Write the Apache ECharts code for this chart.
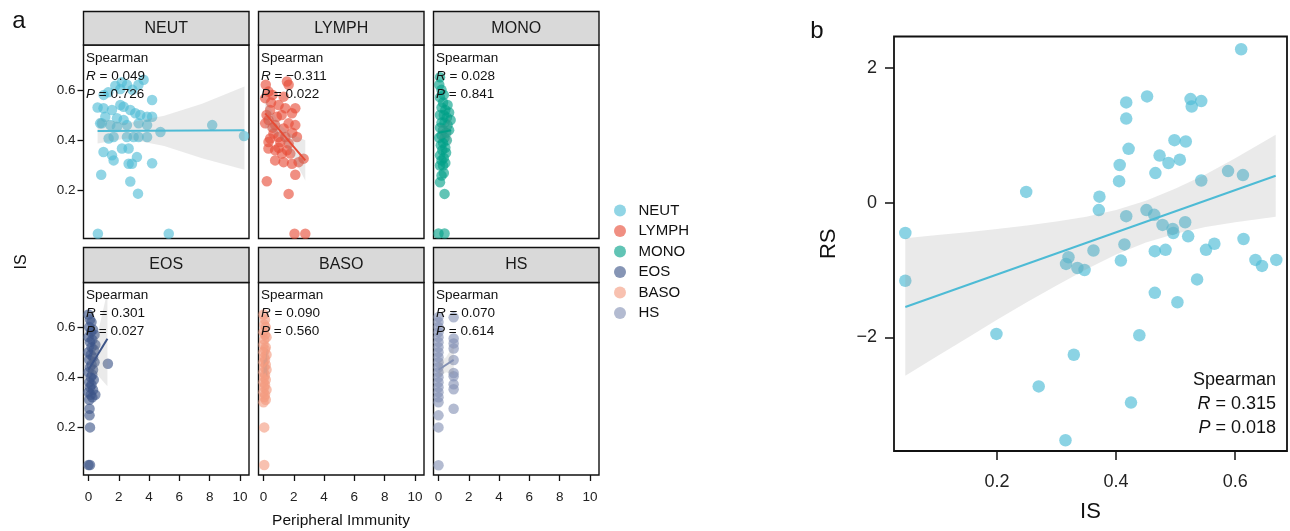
<!DOCTYPE html>
<html>
<head>
<meta charset="utf-8">
<script src="https://cdn.jsdelivr.net/npm/echarts@6/dist/echarts.min.js"></script>
<style>
html,body{margin:0;padding:0;background:#fff;}
#chart{width:1290px;height:531px;}
</style>
</head>
<body>
<div id="chart"></div>
<script>
// ---------------- DATA ----------------
const CELLS = ['NEUT','LYMPH','MONO','EOS','BASO','HS'];
const COLORS = ['#4DBBD5','#E64B35','#00A087','#3C5488','#F39B7F','#8491B4'];
const STAT_R = ['0.049','\u22120.311','0.028','0.301','0.090','0.070'];
const STAT_P = ['0.726','0.022','0.841','0.027','0.560','0.614'];
const FACET_X_TICKS = [0,2,4,6,8,10];
const FACET_Y_TICKS = [0.2,0.4,0.6];
const B_X_TICKS = [0.2,0.4,0.6];
const B_Y_TICKS = [-2,0,2];

const neutPts = [[1.77,0.616],[2.54,0.62],[3.64,0.64],[2.10,0.603],[4.20,0.56],[0.99,0.527],[1.11,0.493],[0.88,0.467],[2.10,0.54],[2.32,0.533],[1.55,0.52],[2.76,0.52],[3.09,0.507],[3.42,0.50],[3.87,0.493],[4.20,0.493],[1.88,0.487],[2.32,0.48],[0.77,0.467],[1.44,0.46],[1.88,0.453],[2.54,0.46],[3.31,0.467],[3.87,0.46],[4.75,0.433],[8.17,0.46],[10.27,0.417],[1.33,0.407],[1.66,0.413],[2.54,0.413],[2.98,0.413],[3.31,0.413],[3.87,0.413],[0.99,0.353],[1.55,0.34],[1.66,0.32],[2.21,0.367],[2.65,0.367],[3.20,0.333],[2.65,0.307],[2.87,0.307],[4.20,0.309],[0.84,0.263],[2.76,0.236],[3.27,0.188],[0.62,0.029],[5.30,0.029],[2.2,0.63],[1.3,0.59],[0.6,0.53],[1.0,0.58],[2.9,0.60],[3.3,0.62]];
const lymphPts = [[1.55,0.633],[1.66,0.62],[0.33,0.593],[0.11,0.567],[1.33,0.573],[2.10,0.527],[1.44,0.527],[1.88,0.507],[0.44,0.52],[0.88,0.493],[0.33,0.48],[0.11,0.467],[0.77,0.46],[1.66,0.467],[2.10,0.46],[1.33,0.447],[0.66,0.427],[0.99,0.413],[0.44,0.407],[1.44,0.413],[2.21,0.413],[0.33,0.393],[1.11,0.393],[1.66,0.387],[0.77,0.36],[1.55,0.36],[0.33,0.367],[1.22,0.347],[1.77,0.347],[0.77,0.32],[1.33,0.313],[1.88,0.307],[2.32,0.313],[2.65,0.327],[0.22,0.237],[2.10,0.263],[1.66,0.187],[2.05,0.029],[2.76,0.029],[0.5,0.55],[1.0,0.54],[1.2,0.50],[0.2,0.50],[0.6,0.45],[1.9,0.43],[1.0,0.37],[0.15,0.62],[0.6,0.58]];
const monoPts = [[0.1,0.65],[0.05,0.62],[0.2,0.6],[0.35,0.58],[0.1,0.57],[0.6,0.54],[0.3,0.55],[0.2,0.53],[0.45,0.52],[0.7,0.51],[0.1,0.5],[0.35,0.5],[0.55,0.49],[0.8,0.48],[0.2,0.47],[0.4,0.47],[0.6,0.46],[0.1,0.45],[0.3,0.44],[0.5,0.43],[0.7,0.44],[0.2,0.42],[0.4,0.41],[0.05,0.41],[0.55,0.4],[0.3,0.39],[0.15,0.38],[0.45,0.37],[0.25,0.36],[0.5,0.35],[0.1,0.34],[0.35,0.33],[0.2,0.32],[0.45,0.31],[0.3,0.3],[0.1,0.3],[0.35,0.27],[0.2,0.26],[0.1,0.233],[0.4,0.187],[0.0,0.03],[0.4,0.03]];
const eosPts = [[0,0.65],[0.1,0.63],[0.2,0.62],[0.05,0.6],[0.3,0.59],[0.15,0.58],[0.4,0.57],[0,0.56],[0.25,0.55],[0.1,0.54],[0.45,0.53],[0.2,0.52],[0.35,0.51],[0,0.5],[0.15,0.49],[0.3,0.48],[0.05,0.47],[0.4,0.46],[0.2,0.45],[0.1,0.44],[0.3,0.43],[0,0.42],[0.25,0.41],[0.15,0.4],[0.35,0.39],[0.05,0.38],[0.2,0.37],[0.1,0.36],[0.3,0.35],[0,0.34],[0.15,0.33],[0.25,0.32],[0.45,0.33],[0.05,0.31],[1.28,0.454],[0.07,0.274],[0.07,0.248],[0.1,0.2],[0.0,0.05],[0.1,0.05]];
const basoPts = [[0,0.65],[0.1,0.63],[0.05,0.61],[0.15,0.6],[0,0.58],[0.1,0.57],[0.2,0.56],[0.05,0.55],[0,0.53],[0.15,0.52],[0.1,0.51],[0,0.5],[0.2,0.49],[0.05,0.48],[0.1,0.47],[0,0.46],[0.15,0.45],[0.05,0.44],[0.2,0.43],[0,0.42],[0.1,0.41],[0.05,0.4],[0.15,0.39],[0,0.38],[0.1,0.37],[0.05,0.36],[0.2,0.35],[0,0.34],[0.1,0.33],[0.05,0.32],[0.15,0.31],[0,0.3],[0.05,0.2],[0.05,0.05]];
const hsPts = [[0,0.64],[0,0.62],[0,0.6],[0,0.58],[0,0.56],[0,0.54],[0,0.52],[0,0.5],[0,0.48],[0,0.46],[0,0.44],[0,0.42],[0,0.4],[0,0.38],[0,0.36],[0,0.34],[0,0.32],[0,0.3],[0,0.248],[0,0.2],[0,0.049],[1,0.639],[1,0.555],[1,0.535],[1,0.515],[1,0.469],[1,0.417],[1,0.404],[1,0.372],[1,0.352],[1,0.274]];

// fitted lines and confidence bands
const neutFit = [[0.6,0.437],[10.3,0.44]];
const neutBandX = [0.6,2.5,5,7.5,10.3];
const neutBandLo = [0.387,0.407,0.377,0.329,0.283];
const neutBandHi = [0.487,0.467,0.497,0.545,0.613];
const lymphFit = [[0.11,0.507],[2.76,0.32]];
const lymphBandX = [0.11,0.6,1.2,1.8,2.76];
const lymphBandLo = [0.448,0.434,0.405,0.35,0.24];
const lymphBandHi = [0.566,0.51,0.455,0.426,0.40];
const monoFit = [[0,0.43],[0.84,0.44]];
const monoBandX = [0,0.4,0.84];
const monoBandLo = [0.40,0.41,0.38];
const monoBandHi = [0.46,0.46,0.50];
const eosFit = [[0,0.43],[1.25,0.554]];
const eosBandX = [0,0.15,0.6,1.25];
const eosBandLo = [0.394,0.42,0.409,0.364];
const eosBandHi = [0.466,0.47,0.571,0.744];
const basoFit = [[0,0.44],[0.25,0.46]];
const basoBandX = [0,0.12,0.25];
const basoBandLo = [0.41,0.42,0.40];
const basoBandHi = [0.47,0.47,0.52];
const hsFit = [[0,0.43],[1,0.469]];
const hsBandX = [0,0.5,1];
const hsBandLo = [0.40,0.42,0.41];
const hsBandHi = [0.46,0.48,0.53];

// panel b
const bIS = [0.610,0.452,0.417,0.417,0.525,0.527,0.543,0.421,0.498,0.517,0.473,0.488,0.507,0.406,0.466,0.405,0.543,0.588,0.613,0.249,0.372,0.371,0.417,0.451,0.464,0.478,0.495,0.496,0.516,0.521,0.046,0.614,0.414,0.362,0.465,0.483,0.551,0.565,0.320,0.316,0.335,0.347,0.408,0.634,0.645,0.669,0.046,0.536,0.465,0.503,0.199,0.439,0.329,0.270,0.425,0.315];
const bRS = [2.28,1.58,1.49,1.25,1.54,1.43,1.51,0.80,0.93,0.91,0.70,0.59,0.64,0.56,0.44,0.32,0.33,0.47,0.41,0.16,0.09,-0.11,-0.20,-0.11,-0.18,-0.33,-0.39,-0.45,-0.29,-0.50,-0.45,-0.54,-0.62,-0.71,-0.72,-0.70,-0.70,-0.61,-0.81,-0.91,-0.97,-1.00,-0.86,-0.85,-0.94,-0.85,-1.16,-1.14,-1.34,-1.48,-1.95,-1.97,-2.26,-2.73,-2.97,-3.53];
const bFit = [[0.046,-1.55],[0.668,0.40]];
const bBandX = [0.046,0.1,0.15,0.2,0.25,0.3,0.35,0.4,0.45,0.5,0.55,0.6,0.668];
const bBandLo = [-2.57,-2.28,-2.01,-1.74,-1.48,-1.23,-0.99,-0.77,-0.59,-0.46,-0.36,-0.29,-0.21];
const bBandHi = [-0.53,-0.48,-0.44,-0.39,-0.34,-0.28,-0.21,-0.11,0.03,0.21,0.42,0.66,1.01];

// ---------------- BUILD ----------------
const FONT = 'Liberation Sans, Arial, Helvetica, sans-serif';
const PTS = [neutPts,lymphPts,monoPts,eosPts,basoPts,hsPts];
const FITS = [neutFit,lymphFit,monoFit,eosFit,basoFit,hsFit];
const BANDS = [[neutBandX,neutBandLo,neutBandHi],[lymphBandX,lymphBandLo,lymphBandHi],[monoBandX,monoBandLo,monoBandHi],[eosBandX,eosBandLo,eosBandHi],[basoBandX,basoBandLo,basoBandHi],[hsBandX,hsBandLo,hsBandHi]];

const colLeft = [83.5,258.5,433.5];
const colW = 165.5;
const rowTop = [45,282.5];
const rowH = [193.5,192.5];
const headTop = [11.5,247.5];

const grids=[], xAxes=[], yAxes=[], series=[], graphics=[];

function bandSeries(idx, bx, lo, hi, fill){
  return {
    type:'custom', xAxisIndex:idx, yAxisIndex:idx, z:3, silent:true,
    data: bx.map((x,i)=>[x,lo[i],hi[i]]),
    encode:{x:0,y:[1,2]},
    renderItem:function(params, api){
      if(params.dataIndex!==0) return null;
      const pts=[];
      for(let i=0;i<bx.length;i++) pts.push(api.coord([bx[i],hi[i]]));
      for(let i=bx.length-1;i>=0;i--) pts.push(api.coord([bx[i],lo[i]]));
      return {type:'polygon', shape:{points:pts}, style:{fill:fill}};
    }
  };
}

for(let k=0;k<6;k++){
  const r = Math.floor(k/3), c = k%3;
  const left = colLeft[c], top = rowTop[r];
  grids.push({left:left, top:top, width:colW, height:rowH[r], show:true, borderColor:'#111', borderWidth:1.4, backgroundColor:'#fff', containLabel:false, outerBoundsMode:'none'});
  xAxes.push({type:'value', gridIndex:k, min:-0.33, max:10.6,
    axisLine:{show:false, onZero:false}, splitLine:{show:false},
    axisTick:{show:r===1, length:6, lineStyle:{color:'#111',width:1.3}, customValues:FACET_X_TICKS},
    axisLabel:{show:r===1, customValues:FACET_X_TICKS, color:'#222', fontSize:13.5, fontFamily:FONT, margin:15}
  });
  yAxes.push({type:'value', gridIndex:k, min:0.01, max:0.778,
    axisLine:{show:false, onZero:false}, splitLine:{show:false},
    axisTick:{show:c===0, length:6, lineStyle:{color:'#111',width:1.3}, customValues:FACET_Y_TICKS},
    axisLabel:{show:c===0, customValues:FACET_Y_TICKS, color:'#222', fontSize:13.5, fontFamily:FONT, margin:8, formatter:v=>v.toFixed(1)}
  });
  series.push({type:'scatter', name:CELLS[k], xAxisIndex:k, yAxisIndex:k, z:2,
    data:PTS[k], symbolSize:10.5, itemStyle:{color:COLORS[k], opacity:0.62}});
  series.push(bandSeries(k, BANDS[k][0], BANDS[k][1], BANDS[k][2], 'rgba(150,150,150,0.2)'));
  series.push({type:'line', xAxisIndex:k, yAxisIndex:k, z:4, silent:true, data:FITS[k], symbol:'none',
    lineStyle:{color:COLORS[k], width:2}});
  // strip header
  graphics.push({type:'rect', shape:{x:left, y:headTop[r], width:colW, height:top-headTop[r]},
    style:{fill:'#D9D9D9', stroke:'#111', lineWidth:1.4}, z:10});
  graphics.push({type:'text', x:left+colW/2, y:(headTop[r]+top)/2,
    style:{text:CELLS[k], fill:'#1a1a1a', font:'16px '+FONT, textAlign:'center', textVerticalAlign:'middle'}, z:11});
  // stats text
  graphics.push({type:'text', x:left+2.5, y:top+4, z:12,
    style:{text:'Spearman\n{i|R} = '+STAT_R[k]+'\n{i|P} = '+STAT_P[k], fill:'#111',
      font:'13.5px '+FONT, lineHeight:18, textAlign:'left', textVerticalAlign:'top',
      rich:{i:{fontStyle:'italic', fontSize:13.5, fontFamily:FONT, lineHeight:18, fill:'#111'}}}});
}

// panel b
grids.push({left:894, top:36.5, width:393, height:414.5, show:true, borderColor:'#111', borderWidth:1.8, backgroundColor:'#fff', containLabel:false, outerBoundsMode:'none'});
xAxes.push({type:'value', gridIndex:6, min:0.027, max:0.687,
  axisLine:{show:false, onZero:false}, splitLine:{show:false},
  axisTick:{show:true, length:9, lineStyle:{color:'#111',width:1.5}, customValues:B_X_TICKS},
  axisLabel:{show:true, customValues:B_X_TICKS, color:'#222', fontSize:18, fontFamily:FONT, margin:22, formatter:v=>v.toFixed(1)},
  name:'IS', nameLocation:'middle', nameGap:50, nameTextStyle:{fontSize:22, color:'#111', fontFamily:FONT}
});
yAxes.push({type:'value', gridIndex:6, min:-3.69, max:2.47,
  axisLine:{show:false, onZero:false}, splitLine:{show:false},
  axisTick:{show:true, length:9, lineStyle:{color:'#111',width:1.5}, customValues:B_Y_TICKS},
  axisLabel:{show:true, customValues:B_Y_TICKS, color:'#222', fontSize:18, fontFamily:FONT, margin:17,
    formatter:v=>(v<0?'\u2212'+Math.abs(v):String(v))},
  name:'RS', nameLocation:'middle', nameGap:54, nameRotate:90, nameTextStyle:{fontSize:22, color:'#111', fontFamily:FONT}
});
series.push({type:'scatter', name:'IS vs RS', xAxisIndex:6, yAxisIndex:6, z:2,
  data:bIS.map((x,i)=>[x,bRS[i]]), symbolSize:12.5, itemStyle:{color:COLORS[0], opacity:0.65}});
series.push(bandSeries(6, bBandX, bBandLo, bBandHi, 'rgba(150,150,150,0.2)'));
series.push({type:'line', xAxisIndex:6, yAxisIndex:6, z:4, silent:true, data:bFit, symbol:'none',
  lineStyle:{color:COLORS[0], width:2}});
graphics.push({type:'text', x:1276, y:368, z:12,
  style:{text:'Spearman\n{i|R} = 0.315\n{i|P} = 0.018', fill:'#111', font:'18px '+FONT, lineHeight:24,
    textAlign:'right', textVerticalAlign:'top',
    rich:{i:{fontStyle:'italic', fontSize:18, fontFamily:FONT, lineHeight:24, fill:'#111'}}}});

// panel labels and shared axis titles
graphics.push({type:'text', x:19, y:21, style:{text:'a', font:'24px '+FONT, fill:'#111', textAlign:'center', textVerticalAlign:'middle'}});
graphics.push({type:'text', x:817, y:31, style:{text:'b', font:'24px '+FONT, fill:'#111', textAlign:'center', textVerticalAlign:'middle'}});
graphics.push({type:'text', x:22, y:262, rotation:Math.PI/2, style:{text:'IS', font:'16px '+FONT, fill:'#111', textAlign:'center', textVerticalAlign:'middle'}});
graphics.push({type:'text', x:341, y:521, style:{text:'Peripheral Immunity', font:'15.5px '+FONT, fill:'#111', textAlign:'center', textVerticalAlign:'middle'}});

const option = {
  backgroundColor:'#fff',
  animation:false,
  grid:grids, xAxis:xAxes, yAxis:yAxes, series:series,
  legend:{data:CELLS, orient:'vertical', left:609, top:198, itemWidth:23, itemHeight:12, itemGap:5.5,
    icon:'circle', textStyle:{fontSize:15, color:'#111', fontFamily:FONT, padding:[0,0,0,2]}},
  graphic:graphics
};
const chart = echarts.init(document.getElementById('chart'), null, {renderer:'canvas'});
chart.setOption(option);
</script>
</body>
</html>
